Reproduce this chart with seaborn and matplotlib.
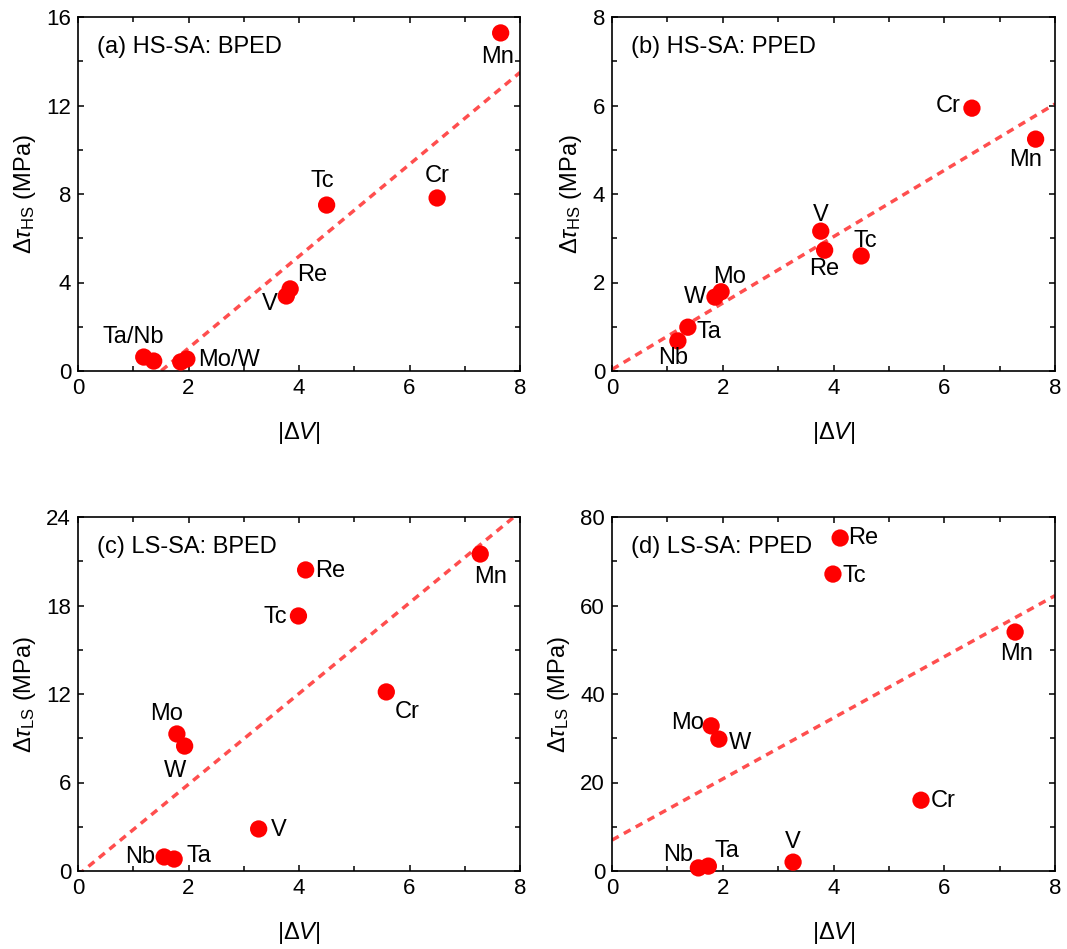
import numpy as np
import pandas as pd
import matplotlib
matplotlib.use("Agg")
import matplotlib.pyplot as plt
from matplotlib.ticker import MultipleLocator
import seaborn as sns

# Element order shared by all series
elements = ["Nb", "Ta", "W", "Mo", "V", "Re", "Tc", "Cr", "Mn"]

# |ΔV| for the HS-SA panels and the LS-SA panels
dv_hs = [1.19, 1.37, 1.86, 1.97, 3.77, 3.84, 4.50, 6.50, 7.65]
dv_ls = [1.56, 1.74, 1.93, 1.79, 3.27, 4.12, 3.99, 5.58, 7.28]

# Strengthening contributions (MPa)
hs_bped = [0.63, 0.45, 0.41, 0.54, 3.39, 3.71, 7.50, 7.82, 15.28]
hs_pped = [0.68, 0.99, 1.67, 1.79, 3.16, 2.73, 2.60, 5.94, 5.24]
ls_bped = [0.95, 0.81, 8.47, 9.29, 2.85, 20.41, 17.29, 12.14, 21.49]
ls_pped = [0.7, 1.1, 29.8, 32.8, 2.0, 75.25, 67.1, 16.0, 54.0]

titles = ["(a) HS-SA: BPED", "(b) HS-SA: PPED", "(c) LS-SA: BPED", "(d) LS-SA: PPED"]
ylabels = [r"$\Delta\mathit{\tau}_{\mathrm{HS}}$ (MPa)"] * 2 + [r"$\Delta\mathit{\tau}_{\mathrm{LS}}$ (MPa)"] * 2
xlabel = r"|$\Delta\mathit{V}$|"
ymax = [16, 8, 24, 80]
ystep = [4, 2, 6, 20]

# Point-label text and placement (pixel offsets from the marker)
label_a = {"Nb": ("Ta/Nb", -10, 20), "Mo": ("Mo/W", 42, -1), "V": ("V", -17, -8),
           "Re": ("Re", 22, 14), "Tc": ("Tc", -4, 24), "Cr": ("Cr", 0, 22), "Mn": ("Mn", -3, -24)}
label_b = {"Nb": ("Nb", -5, -17), "Ta": ("Ta", 21, -5), "W": ("W", -20, 0), "Mo": ("Mo", 8, 15),
           "V": ("V", 0, 16), "Re": ("Re", 0, -19), "Tc": ("Tc", 4, 15), "Cr": ("Cr", -24, 2),
           "Mn": ("Mn", -10, -21)}
label_c = {"Nb": ("Nb", -24, 0), "Ta": ("Ta", 25, 3), "W": ("W", -10, -25), "Mo": ("Mo", -10, 20),
           "V": ("V", 20, -1), "Re": ("Re", 25, -1), "Tc": ("Tc", -23, -1), "Cr": ("Cr", 21, -20),
           "Mn": ("Mn", 10, -23)}
label_d = {"Nb": ("Nb", -20, 13), "Ta": ("Ta", 19, 15), "W": ("W", 21, -4), "Mo": ("Mo", -24, 3),
           "V": ("V", 0, 20), "Re": ("Re", 23, 0), "Tc": ("Tc", 21, -2), "Cr": ("Cr", 22, -1),
           "Mn": ("Mn", 1, -22)}

panels = [
    (dv_hs, hs_bped, label_a),
    (dv_hs, hs_pped, label_b),
    (dv_ls, ls_bped, label_c),
    (dv_ls, ls_pped, label_d),
]

sns.set_theme(style="ticks")
plt.rcParams["font.family"] = ["Liberation Sans", "DejaVu Sans"]
plt.rcParams["mathtext.fontset"] = "custom"
plt.rcParams["mathtext.rm"] = "Liberation Sans"
plt.rcParams["mathtext.it"] = "Liberation Sans:italic"
plt.rcParams["mathtext.bf"] = "Liberation Sans:bold"
for key in ["text.color", "axes.labelcolor", "xtick.color", "ytick.color", "axes.edgecolor"]:
    plt.rcParams[key] = "black"

W, H = 1067, 949
fig = plt.figure(figsize=(W / 100, H / 100), dpi=100)
boxes = [(78, 17, 520, 371), (612, 17, 1055, 371), (78, 517, 520, 871), (612, 517, 1055, 871)]
fs = 17

for i, ((xv, yv, labels), (l, t, r, b)) in enumerate(zip(panels, boxes)):
    ax = fig.add_axes([l / W, 1 - b / H, (r - l) / W, (b - t) / H])
    df = pd.DataFrame({"dv": xv, "tau": yv, "el": elements})
    ax.set_xlim(0, 8)
    ax.set_ylim(0, ymax[i])
    sns.regplot(data=df, x="dv", y="tau", ax=ax, scatter=False, ci=None, truncate=False,
                line_kws=dict(color="#ff3b3b", lw=2.5, ls=(0, (2.2, 1.7)), alpha=0.9))
    sns.scatterplot(data=df, x="dv", y="tau", ax=ax, color="#ff0000", s=155,
                    edgecolor="none", zorder=3, clip_on=False)
    ax.set_xlim(0, 8)
    ax.set_ylim(0, ymax[i])
    for el, x, y in zip(elements, xv, yv):
        if el in labels:
            txt, dx, dy = labels[el]
            ax.annotate(txt, (x, y), xytext=(dx, dy), textcoords="offset pixels",
                        ha="center", va="center", fontsize=fs, color="black")
    ax.text(0.043, 0.915, titles[i], transform=ax.transAxes, fontsize=fs,
            ha="left", va="center")
    ax.xaxis.set_major_locator(MultipleLocator(2))
    ax.xaxis.set_minor_locator(MultipleLocator(1))
    ax.yaxis.set_major_locator(MultipleLocator(ystep[i]))
    ax.yaxis.set_minor_locator(MultipleLocator(ystep[i] / 2))
    ax.tick_params(which="both", direction="in", top=True, right=True, width=1.1,
                   colors="black", labelsize=16)
    ax.tick_params(which="major", length=4, pad=5)
    ax.tick_params(which="minor", length=3.5)
    for sp in ax.spines.values():
        sp.set_linewidth(1.2)
        sp.set_color("black")
    ax.set_xlabel(xlabel, fontsize=fs, labelpad=15)
    ax.set_ylabel(ylabels[i], fontsize=fs, labelpad=6)

fig.savefig("out.png", dpi=100)
